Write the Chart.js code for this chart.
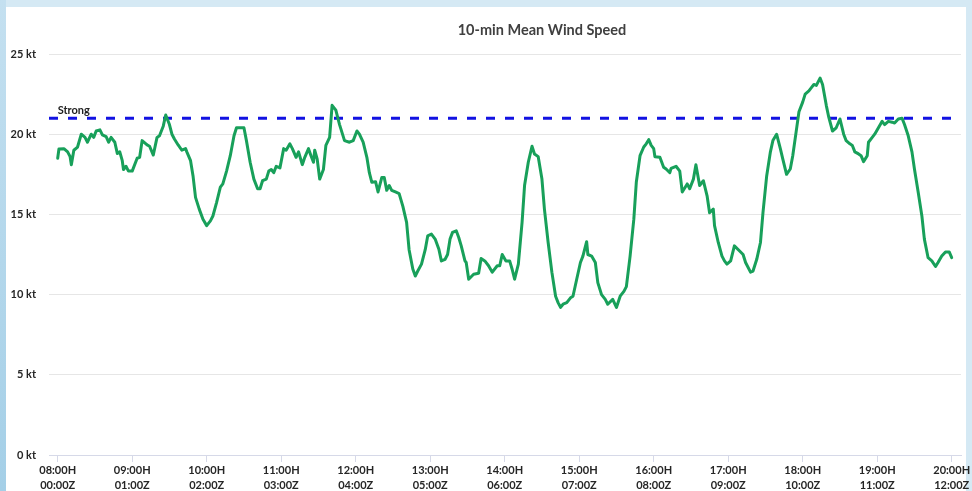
<!DOCTYPE html>
<html><head><meta charset="utf-8">
<script src="https://cdn.jsdelivr.net/npm/chart.js@4.4.1/dist/chart.umd.min.js"></script>
<style>
html,body{margin:0;padding:0;width:972px;height:491px;overflow:hidden;background:#d5e9f4;}
#strip{position:absolute;left:0;top:0;width:6px;height:491px;background:linear-gradient(#c4e0f0,#a4cfe7);}
#panel{position:absolute;left:6px;top:7px;width:960px;height:484px;background:#fff;}
canvas{position:absolute;left:0;top:0;}
</style></head><body>
<div id="strip"></div><div id="panel"></div>
<canvas id="c" width="972" height="491"></canvas>
<script>
// minutes since 00:00Z (08:00H local)
const times=[0,1,5,8,10,11,13,16,19,22,24,27,29,31,34,36,39,41,43,46,48,50,52,53,55,57,60,64,66,68,72,74,77,80,82,85,87,90,92,94,97,100,103,104,107,109,111,114,117,120,123,125,128,131,133,136,139,142,144,150,152,155,158,161,163,165,168,170,172,174,176,179,182,184,187,189,192,194,197,199,202,204,206,207,209,211,214,216,219,221,224,227,231,235,238,241,243,246,249,251,253,256,258,261,263,265,267,269,272,275,278,281,283,286,288,290,293,296,298,301,304,307,309,312,314,316,318,321,323,325,328,329,331,335,339,341,344,347,350,354,356,358,361,364,366,368,371,374,376,379,382,384,387,390,392,395,398,401,403,405,407,410,413,415,418,421,423,426,427,430,433,435,438,441,443,447,450,453,456,458,461,464,466,469,472,474,476,478,480,481,485,488,490,493,494,498,501,503,507,509,512,514,517,520,523,525,528,529,532,535,537,539,542,545,549,552,554,558,560,563,566,568,571,574,576,579,582,584,587,590,592,595,597,600,602,605,607,609,611,614,616,619,621,624,627,630,633,635,638,640,642,645,647,649,652,653,656,658,661,664,666,669,672,674,677,680,682,685,688,690,693,696,698,701,704,707,709,712,715,718,720];
// 10-min mean wind speed, kt
const speeds=[18.5,19.08,19.1,18.9,18.6,18.1,19.0,19.2,20.0,19.8,19.5,20.0,19.8,20.2,20.27,19.96,19.85,19.5,19.8,19.5,18.8,18.9,18.35,17.8,18.0,17.7,17.7,18.5,18.56,19.6,19.33,19.25,18.7,19.8,19.9,20.5,21.2,20.6,20.0,19.7,19.33,19.0,19.1,18.9,18.35,17.4,16.06,15.33,14.7,14.3,14.6,14.9,15.75,16.7,16.9,17.7,18.66,19.9,20.4,20.4,19.6,18.25,17.2,16.6,16.6,17.1,17.2,17.7,17.8,17.6,18.0,17.9,19.1,19.0,19.4,19.1,18.56,18.9,18.1,18.56,19.1,18.66,18.25,19.0,18.45,17.2,17.8,19.3,19.8,21.8,21.5,20.6,19.6,19.5,19.6,20.2,20.0,19.5,18.56,17.6,17.0,17.04,16.4,17.3,17.3,16.5,16.8,16.5,16.4,16.3,15.5,14.5,12.8,11.6,11.16,11.47,11.9,12.8,13.66,13.77,13.46,12.83,12.1,12.2,12.5,13.46,13.88,13.98,13.56,13.04,12.1,12.0,10.96,11.27,11.33,12.25,12.1,11.8,11.4,11.8,11.8,12.5,12.1,12.1,11.58,10.96,11.9,14.5,16.8,18.25,19.25,18.77,18.6,17.2,15.33,13.25,11.4,9.9,9.5,9.2,9.4,9.5,9.8,9.9,10.96,12.0,12.4,13.3,12.5,12.4,12.0,10.75,10.0,9.7,9.4,9.7,9.2,9.9,10.2,10.5,12.4,14.7,17.0,18.66,19.2,19.4,19.66,19.3,19.1,18.6,18.56,17.94,17.83,17.6,17.87,18.0,17.7,16.4,16.9,16.6,17.2,18.1,16.8,17.1,16.16,15.1,15.33,14.3,13.25,12.4,12.1,11.9,12.1,13.04,12.73,12.5,12.0,11.4,11.47,12.2,13.25,15.1,17.4,18.9,19.6,20.0,19.1,18.45,17.5,17.83,18.66,20.3,21.4,22.0,22.5,22.7,22.9,23.1,23.04,23.5,23.1,21.8,21.06,20.2,20.4,20.95,20.0,19.6,19.4,19.3,18.9,18.77,18.66,18.29,18.66,19.5,19.8,20.0,20.4,20.8,20.6,20.8,20.75,20.7,20.95,21.0,20.6,19.9,18.9,17.83,16.4,14.9,13.46,12.3,12.1,11.75,12.0,12.4,12.66,12.66,12.3];
const strongLevel=21;
const strongLabel='Strong';
const chartTitle='10-min Mean Wind Speed';
const tickMinutes=[0,60,120,180,240,300,360,420,480,540,600,660,720];
const localLabels=['08:00H','09:00H','10:00H','11:00H','12:00H','13:00H','14:00H','15:00H','16:00H','17:00H','18:00H','19:00H','20:00H'];
const utcLabels=['00:00Z','01:00Z','02:00Z','03:00Z','04:00Z','05:00Z','06:00Z','07:00Z','08:00Z','09:00Z','10:00Z','11:00Z','12:00Z'];
const yTicks=[0,5,10,15,20,25];
const xMin=-7, xMax=727.5;

const annot={id:'annot',afterDatasetsDraw(chart){
  const {ctx,scales:{x,y}}=chart;
  ctx.save();
  ctx.font='bold 11px Lato';
  ctx.fillStyle='#222';
  ctx.textAlign='left';
  ctx.textBaseline='alphabetic';
  ctx.fillText(strongLabel,x.getPixelForValue(times[0]),y.getPixelForValue(strongLevel)-4);
  ctx.font='bold 14.5px Lato';
  ctx.fillStyle='#404040';
  ctx.textAlign='center';
  ctx.textBaseline='middle';
  ctx.fillText(chartTitle,542,30);
  ctx.restore();
}};

new Chart(document.getElementById('c'),{
  type:'line',
  data:{datasets:[
    {data:times.map((t,i)=>({x:t,y:speeds[i]})),borderColor:'#18a05a',borderWidth:3,pointRadius:0,tension:0,borderJoinStyle:'round',borderCapStyle:'round'},
    {data:[{x:xMin,y:strongLevel},{x:xMax,y:strongLevel}],borderColor:'#1212e2',borderWidth:3,borderDash:[9,10],pointRadius:0}
  ]},
  options:{
    responsive:false,animation:false,devicePixelRatio:1,
    layout:{padding:{left:0,top:54,right:11,bottom:0}},
    plugins:{legend:{display:false},tooltip:{enabled:false},title:{display:false}},
    scales:{
      x:{type:'linear',min:xMin,max:xMax,
        afterBuildTicks:s=>{s.ticks=tickMinutes.map(v=>({value:v}));},
        afterFit:s=>{s.height=36;s.paddingLeft=0;s.paddingRight=0;},
        grid:{drawOnChartArea:false,drawTicks:true,tickLength:7,color:'#d6d9e8'},
        border:{display:true,color:'#d6d9e8',width:1},
        ticks:{autoSkip:false,maxRotation:0,padding:1,color:'#262626',font:{family:'Lato',weight:'bold',size:11,lineHeight:1.36},
          callback:(v,i)=>[localLabels[i],utcLabels[i]]}
      },
      y:{min:0,max:25,
        afterBuildTicks:s=>{s.ticks=yTicks.map(v=>({value:v}));},
        afterFit:s=>{s.width=49;s.paddingTop=0;s.paddingBottom=0;},
        grid:{color:'#e6e6e6',drawTicks:false},
        border:{display:false},
        ticks:{padding:13,color:'#262626',font:{family:'Lato',weight:'bold',size:11},callback:v=>v+' kt'}
      }
    }
  },
  plugins:[annot]
});
</script>
</body></html>
